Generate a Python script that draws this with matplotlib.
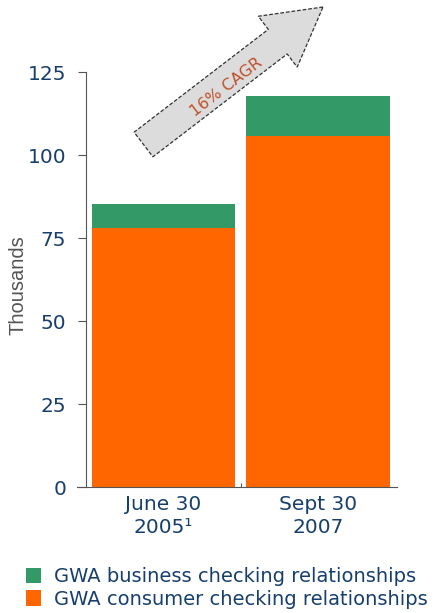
import matplotlib.pyplot as plt
from matplotlib.patches import FancyArrow

# data (thousands of checking relationships)
categories = ["June 30\n2005\u00b9", "Sept 30\n2007"]
consumer = [78.0, 105.8]
business = [7.2, 11.9]
yticks = [0, 25, 50, 75, 100, 125]

navy = "#173f6e"
orange = "#ff6600"
green = "#339966"

fig = plt.figure(figsize=(4.4, 6.13), dpi=100)
ax = fig.add_axes([0.195, 0.2055, 0.707, 0.677])

x = range(len(categories))
ax.bar(x, consumer, width=0.925, color=orange, label="GWA consumer checking relationships")
ax.bar(x, business, width=0.925, bottom=consumer, color=green,
       label="GWA business checking relationships")

ax.set_xlim(-0.5, 1.51)
ax.set_ylim(0, 125)
ax.set_yticks(yticks)
ax.set_xticks([0.5])
ax.set_xticklabels([""])
ax.set_xticks(list(x), minor=True)
ax.set_xticklabels(categories, minor=True, fontsize=14.5, color=navy, linespacing=1.25)
ax.tick_params(axis="x", which="minor", length=0, pad=6)
ax.tick_params(axis="x", which="major", length=3, direction="in", color="#555555")
ax.tick_params(axis="y", length=6, color="#555555", labelsize=14.5, labelcolor=navy, pad=8)
for s in ["top", "right"]:
    ax.spines[s].set_visible(False)
ax.spines["left"].set_color("#555555")
ax.spines["bottom"].set_color("#555555")
ax.spines["bottom"].set_bounds(-0.555, 1.51)

fig.text(0.04, 0.535, "Thousands", rotation=90, ha="center", va="center",
         fontsize=14.5, color="#555555", family="Liberation Sans")

# legend
handles, labels = ax.get_legend_handles_labels()
fig.legend(handles[::-1], labels[::-1], loc="lower left", bbox_to_anchor=(0.02, -0.022),
           frameon=False, fontsize=14, labelcolor=navy, handlelength=0.75,
           handleheight=0.85, handletextpad=0.65, labelspacing=0.2)

# CAGR arrow, drawn in pixel coordinates
ov = fig.add_axes([0, 0, 1, 1])
ov.set_xlim(0, 440)
ov.set_ylim(613, 0)
ov.axis("off")
arr = FancyArrow(143.5, 144.5, 179.5, -137.5, width=31, head_width=64, head_length=57,
                 length_includes_head=True, facecolor="#dcdcdc", edgecolor="#333333",
                 linestyle=(0, (3, 1.5)), linewidth=0.9)
ov.add_patch(arr)
ov.text(226, 87, "16% CAGR", rotation=37.5, ha="center", va="center",
        fontsize=11.5, color="#c0502a", rotation_mode="anchor")

fig.savefig("out.png", dpi=100)
